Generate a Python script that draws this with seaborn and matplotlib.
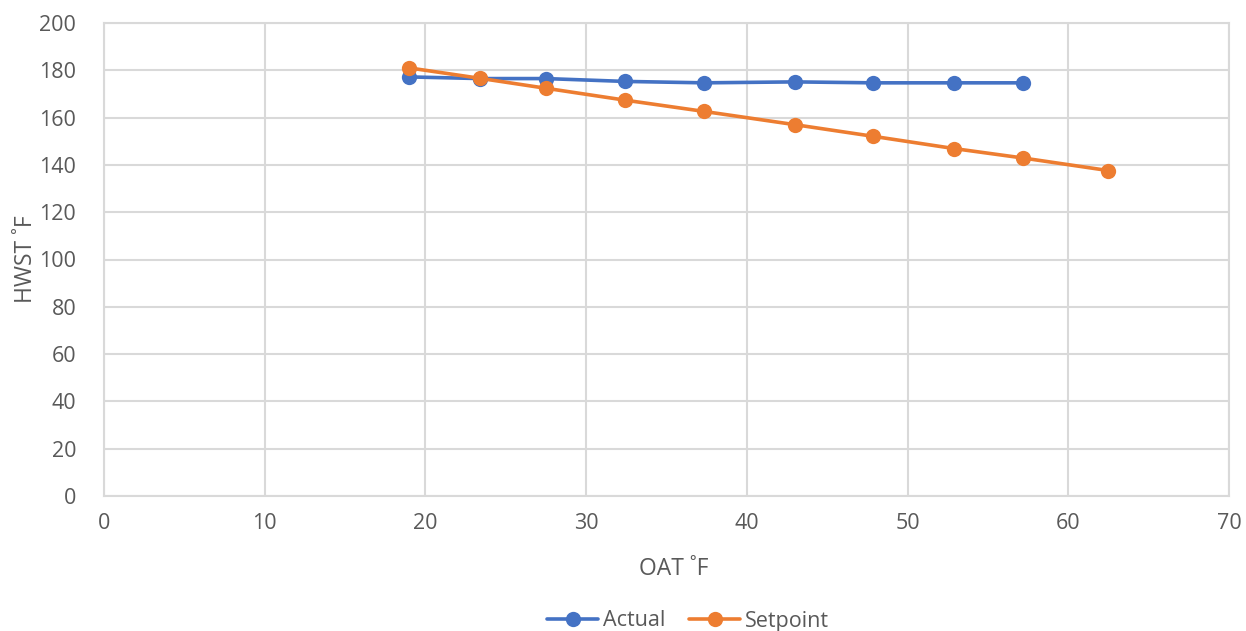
import matplotlib
matplotlib.use("Agg")
import matplotlib.pyplot as plt
from matplotlib.lines import Line2D
import seaborn as sns
import pandas as pd

# Outside air temperature (°F) and hot-water supply temperature (°F)
actual_oat = [19.0, 23.4, 27.5, 32.4, 37.35, 43.0, 47.85, 52.9, 57.2]
actual_hwst = [177.2, 176.5, 176.5, 175.3, 174.7, 175.1, 174.7, 174.7, 174.7]

setpoint_oat = [19.0, 23.4, 27.5, 32.4, 37.35, 43.0, 47.85, 52.9, 57.2, 62.5]
setpoint_hwst = [181.0, 176.6, 172.4, 167.4, 162.6, 157.0, 152.1, 146.9, 142.9, 137.6]

series_names = ["Actual", "Setpoint"]
series_colors = ["#4472C4", "#ED7D31"]

x_ticks = [0, 10, 20, 30, 40, 50, 60, 70]
y_ticks = [0, 20, 40, 60, 80, 100, 120, 140, 160, 180, 200]

df = pd.concat([
    pd.DataFrame({"OAT": actual_oat, "HWST": actual_hwst, "Series": series_names[0]}),
    pd.DataFrame({"OAT": setpoint_oat, "HWST": setpoint_hwst, "Series": series_names[1]}),
], ignore_index=True)

sns.set_theme(style="white")
plt.rcParams["font.family"] = ["Open Sans", "DejaVu Sans"]

text_color = "#595959"
grid_color = "#D9D9D9"

fig = plt.figure(figsize=(12.46, 6.31), dpi=100)
ax = fig.add_axes([104 / 1246, 1 - 496 / 631, (1229 - 104) / 1246, (496 - 23) / 631])

sns.lineplot(
    data=df, x="OAT", y="HWST", hue="Series",
    palette=dict(zip(series_names, series_colors)),
    marker="o", markersize=11, markeredgewidth=0,
    linewidth=2.6, sort=False, ax=ax, legend=False, zorder=3,
)

ax.set_xlim(0, 70)
ax.set_ylim(0, 200)
ax.set_xticks(x_ticks)
ax.set_yticks(y_ticks)
ax.grid(True, color=grid_color, linewidth=1.5)
ax.set_axisbelow(True)
for s in ax.spines.values():
    s.set_color(grid_color)
    s.set_linewidth(1.5)

ax.tick_params(axis="both", length=0, labelsize=15.5, colors=text_color)
ax.tick_params(axis="y", pad=20)
ax.tick_params(axis="x", pad=12)

ax.set_xlabel("OAT ˚F", fontsize=16.5, color=text_color)
ax.set_ylabel("HWST ˚F", fontsize=16.5, color=text_color)
ax.xaxis.set_label_coords(0.506, -0.130)
ax.yaxis.set_label_coords(-0.0587, 0.5)

handles = [
    Line2D([], [], color=c, marker="o", markersize=11, markeredgewidth=0, linewidth=2.6)
    for c in series_colors
]
leg = fig.legend(
    handles, series_names, loc="center", bbox_to_anchor=(0.552, 1 - 621 / 631),
    ncol=2, frameon=False, fontsize=15.5, handlelength=2.4, handletextpad=0.2,
    columnspacing=1.1,
)
for t in leg.get_texts():
    t.set_color(text_color)

fig.savefig("out.png", dpi=100)
